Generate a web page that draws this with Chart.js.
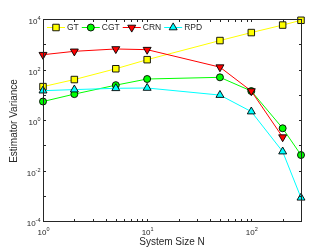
<!DOCTYPE html>
<html><head><meta charset="utf-8">
<script src="https://cdn.jsdelivr.net/npm/chart.js@4/dist/chart.umd.min.js"></script>
<style>html,body{margin:0;padding:0;background:#fff;overflow:hidden}#c{display:block}</style>
</head><body>
<canvas id="c" width="332" height="248"></canvas>
<script>
const systemSizes = [1, 2, 5, 10, 50, 100, 200, 300];
const gtValues  = [21, 40, 107, 245, 1400, 2900, 5750, 8900];
const cgtValues = [5.4, 10.6, 24, 42, 49, 14, 0.47, 0.041];
const crnValues = [385, 525, 650, 610, 124, 14, 0.21, null];
const rpdValues = [14.5, 16, 18, 18.5, 9.7, 2.15, 0.056, 0.00083];
const seriesNames = ['GT', 'CGT', 'CRN', 'RPD'];
const xTickValues = [1, 10, 100];
const xTickExps = ['0', '1', '2'];
const yTickValues = [1e-4, 1e-2, 1, 1e2, 1e4];
const yTickExps = ['-4', '-2', '0', '2', '4'];
const xTitle = 'System Size N';
const yTitle = 'Estimator Variance';

const FONT = '"Liberation Sans", Arial, sans-serif';
const AXIS_COLOR = '#262626';

function mk(label, data, color, style, radius, rot, order) {
  return {
    label, data: data.map((v, i) => ({x: systemSizes[i], y: v})),
    borderColor: color, backgroundColor: color, borderWidth: 1,
    pointStyle: style, pointRadius: radius, pointRotation: rot,
    pointBackgroundColor: color, pointBorderColor: '#000', pointBorderWidth: 0.9,
    pointHoverRadius: radius, tension: 0, clip: false, order, spanGaps: false
  };
}

const datasets = [
  mk(seriesNames[0], gtValues, '#ffff00', 'rect', 4.6, 0, 4),
  mk(seriesNames[1], cgtValues, '#00ff00', 'circle', 3.5, 0, 3),
  mk(seriesNames[2], crnValues, '#ff0000', 'triangle', 4.6, 180, 2),
  mk(seriesNames[3], rpdValues, '#00ffff', 'triangle', 4.6, 0, 1)
];

const axesPlugin = {
  id: 'matlabAxes',
  afterDraw(chart) {
    const ctx = chart.ctx;
    const a = chart.chartArea;
    const xs = chart.scales.x, ys = chart.scales.y;
    const L = Math.round(a.left) + 0.5, R = Math.round(a.right) + 0.5;
    const T = Math.round(a.top) + 0.5, B = Math.round(a.bottom) + 0.5;
    ctx.save();
    ctx.strokeStyle = AXIS_COLOR; ctx.lineWidth = 1;
    ctx.strokeRect(L, T, R - L, B - T);
    const tl = 2.5;
    ctx.beginPath();
    // x ticks (major + minor)
    for (let d = 1; d <= 100; d *= 10) {
      for (let m = 1; m <= 9; m++) {
        const v = d * m; if (v > 300) break;
        const px = Math.round(xs.getPixelForValue(v)) + 0.5;
        ctx.moveTo(px, B); ctx.lineTo(px, B - tl);
        ctx.moveTo(px, T); ctx.lineTo(px, T + tl);
      }
    }
    // y ticks each decade
    for (let e = -4; e <= 4; e++) {
      const py = Math.round(ys.getPixelForValue(Math.pow(10, e))) + 0.5;
      ctx.moveTo(L, py); ctx.lineTo(L + tl, py);
      ctx.moveTo(R, py); ctx.lineTo(R - tl, py);
    }
    ctx.stroke();

    // tick labels
    ctx.fillStyle = AXIS_COLOR;
    const baseF = '8px ' + FONT, supF = '5.5px ' + FONT;
    function label(x, y, exp, align) {
      ctx.font = baseF; const wb = ctx.measureText('10').width;
      ctx.font = supF; const ws = ctx.measureText(exp).width;
      const w = wb + ws;
      let x0 = align === 'center' ? x - w / 2 : x - w;
      ctx.textAlign = 'left'; ctx.textBaseline = 'alphabetic';
      ctx.font = baseF; ctx.fillText('10', x0, y);
      ctx.font = supF; ctx.fillText(exp, x0 + wb, y - 4);
    }
    xTickValues.forEach((v, i) => {
      label(xs.getPixelForValue(v) + 0.5, B + 13, xTickExps[i], 'center');
    });
    yTickValues.forEach((v, i) => {
      label(L - 3, ys.getPixelForValue(v) + 5, yTickExps[i], 'right');
    });

    // axis titles
    ctx.font = '10px ' + FONT;
    ctx.textAlign = 'center'; ctx.textBaseline = 'alphabetic';
    ctx.fillText(xTitle, (a.left + a.right) / 2, 245);
    ctx.save();
    ctx.translate(16.5, (a.top + a.bottom) / 2 + 1);
    ctx.rotate(-Math.PI / 2);
    ctx.fillText(yTitle, 0, 0);
    ctx.restore();

    // legend
    ctx.font = '8.5px ' + FONT;
    let x = a.left + 4;
    const ly = 27;
    chart.data.datasets.forEach((ds, i) => {
      ctx.strokeStyle = ds.borderColor; ctx.lineWidth = 1;
      ctx.beginPath(); ctx.moveTo(x, ly + 0.5); ctx.lineTo(x + 18, ly + 0.5); ctx.stroke();
      ctx.fillStyle = ds.pointBackgroundColor; ctx.strokeStyle = '#000'; ctx.lineWidth = 0.9;
      Chart.helpers.drawPoint(ctx, {pointStyle: ds.pointStyle, rotation: ds.pointRotation, radius: ds.pointRadius, borderWidth: 0.9}, x + 9, ly + 0.5);
      ctx.fillStyle = AXIS_COLOR; ctx.textAlign = 'left'; ctx.textBaseline = 'middle';
      ctx.fillText(ds.label, x + 20, ly + 1);
      x += 20 + ctx.measureText(ds.label).width + 3;
    });
    ctx.restore();
  }
};

new Chart(document.getElementById('c'), {
  type: 'line',
  data: { datasets },
  options: {
    responsive: false, animation: false, devicePixelRatio: 1,
    layout: { padding: { left: 43, right: 31, top: 19, bottom: 27 } },
    plugins: { legend: { display: false }, tooltip: { enabled: false } },
    scales: {
      x: { type: 'logarithmic', min: 1, max: 300, display: false },
      y: { type: 'logarithmic', min: 1e-4, max: 1e4, display: false }
    }
  },
  plugins: [axesPlugin]
});
</script>
</body></html>
